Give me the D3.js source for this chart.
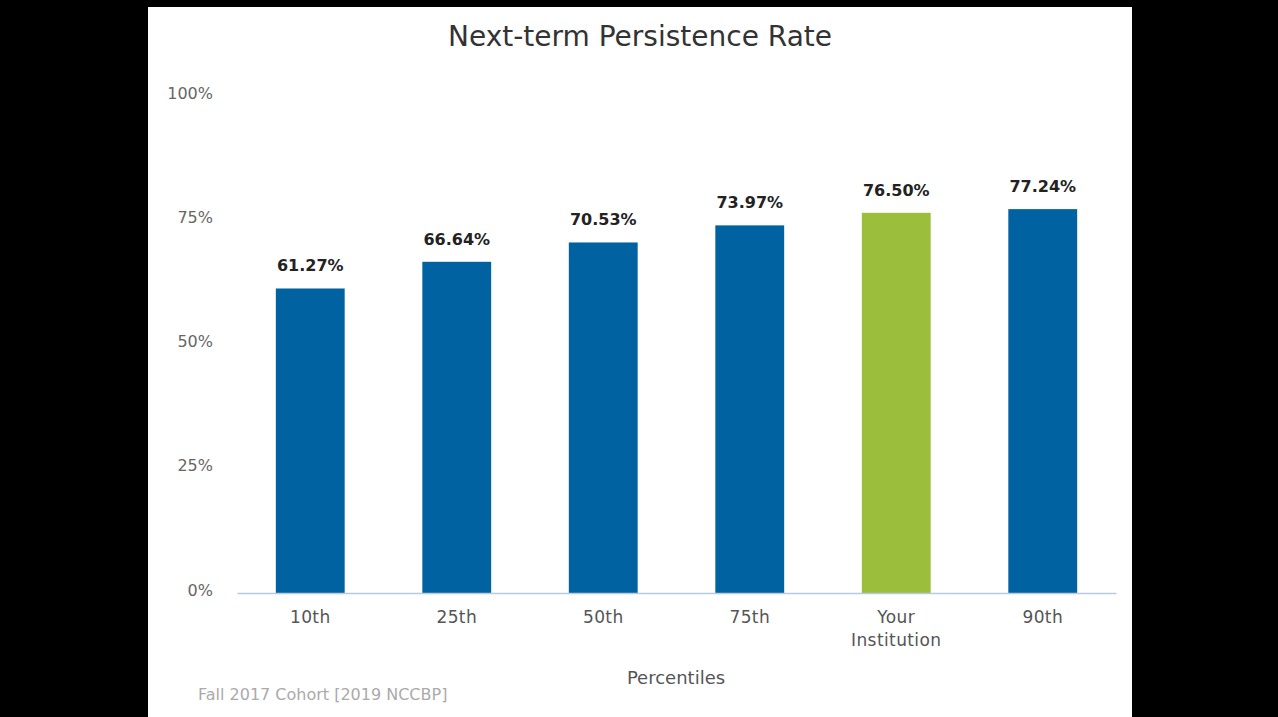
<!DOCTYPE html>
<html>
<head>
<meta charset="utf-8">
<script src="https://cdn.jsdelivr.net/npm/d3@7"></script>
<style>
  html, body { margin: 0; padding: 0; background: #000; }
  svg { display: block; }
  text { font-family: "DejaVu Sans", Verdana, sans-serif; }
</style>
</head>
<body>
<svg id="chart" width="1278" height="717"></svg>
<script>
// Next-term persistence rate by percentile group
const categories = ["10th", "25th", "50th", "75th", "Your Institution", "90th"];
const values = [61.27, 66.64, 70.53, 73.97, 76.50, 77.24];
const highlight = ["Your Institution"];
const yTicks = [0, 25, 50, 75, 100];
const title = "Next-term Persistence Rate";
const xTitle = "Percentiles";
const footnote = "Fall 2017 Cohort [2019 NCCBP]";

const svg = d3.select("#chart");

// white card on black background
svg.append("rect").attr("x", 0).attr("y", 0).attr("width", 1278).attr("height", 717).attr("fill", "#000");
svg.append("rect").attr("x", 148).attr("y", 7).attr("width", 984).attr("height", 710).attr("fill", "#fff");

const x = d3.scaleBand()
  .domain(categories)
  .range([237, 1116])
  .paddingInner(0.53)
  .paddingOuter(0.265);

const y = d3.scaleLinear().domain([0, 100]).range([593, 96]);

// title
svg.append("text")
  .attr("x", 640).attr("y", 46)
  .attr("text-anchor", "middle")
  .attr("font-size", 28)
  .attr("fill", "#333")
  .text(title);

// y axis labels (no line, no grid)
const yAxis = d3.axisLeft(y).tickValues(yTicks).tickFormat(d => d + "%").tickSize(0).tickPadding(0);
const yG = svg.append("g").attr("transform", "translate(213,-3)").call(yAxis);
yG.select(".domain").remove();
yG.selectAll("text").attr("font-size", 16).attr("fill", "#666").attr("font-family", "DejaVu Sans, sans-serif");

// bars
svg.append("g").selectAll("rect")
  .data(categories)
  .join("rect")
  .attr("x", d => x(d))
  .attr("width", x.bandwidth())
  .attr("y", (d, i) => y(values[i]))
  .attr("height", (d, i) => y(0) - y(values[i]))
  .attr("fill", d => highlight.includes(d) ? "#9bbe3d" : "#0062a0");

// value labels
svg.append("g").selectAll("text")
  .data(categories)
  .join("text")
  .attr("x", d => x(d) + x.bandwidth() / 2)
  .attr("y", (d, i) => y(values[i]) - 17)
  .attr("text-anchor", "middle")
  .attr("font-size", 16)
  .attr("font-weight", "bold")
  .attr("fill", "#222")
  .text((d, i) => values[i].toFixed(2) + "%");

// x axis baseline and category labels
const xAxis = d3.axisBottom(x).tickSize(0).tickPadding(0);
const xG = svg.append("g").attr("transform", `translate(0,${y(0)})`).call(xAxis);
xG.select(".domain").attr("stroke", "#b6cbe3").attr("stroke-width", 1.5);
xG.selectAll(".tick text").remove();
xG.selectAll(".tick").each(function(d) {
  const words = d.split(" ");
  const t = d3.select(this).append("text")
    .attr("text-anchor", "middle")
    .attr("font-size", 17)
    .attr("fill", "#555")
    .attr("font-family", "DejaVu Sans, sans-serif")
    .attr("letter-spacing", 0.4);
  words.forEach((w, i) => {
    t.append("tspan").attr("x", 0).attr("y", 30 + i * 23).text(w);
  });
});

// x axis title
svg.append("text")
  .attr("x", 676).attr("y", 684)
  .attr("text-anchor", "middle")
  .attr("font-size", 18)
  .attr("fill", "#555")
  .text(xTitle);

// source note
svg.append("text")
  .attr("x", 198).attr("y", 700)
  .attr("font-size", 16)
  .attr("fill", "#aaa")
  .text(footnote);
</script>
</body>
</html>
